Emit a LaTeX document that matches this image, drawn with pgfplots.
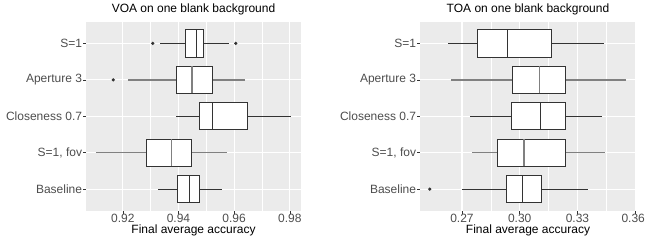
\documentclass[border=0pt]{standalone}
\usepackage{fontspec}
\setmainfont{Liberation Sans}
\usepackage{pgfplots}
\pgfplotsset{compat=1.18}
\usepgfplotslibrary{statistics}
\definecolor{ggbg}{HTML}{EBEBEB}
\definecolor{ggdark}{HTML}{333333}
\definecolor{ggtxt}{HTML}{4D4D4D}
\definecolor{gggray}{HTML}{808080}
\pgfplotsset{
  ggpanel/.style={
    scale only axis, height=189.5pt,
    axis background/.style={fill=ggbg},
    axis line style={draw=none},
    grid=both,
    major grid style={white, line width=1.1pt},
    minor grid style={white, line width=0.55pt},
    minor x tick num=1,
    minor tick length=0pt,
    major tick length=2.75pt,
    tick align=outside,
    tick style={ggdark, line width=0.5pt},
    xtick pos=left, ytick pos=left,
    ymin=0.4, ymax=5.6,
    ytick={1,2,3,4,5},
    yticklabels={Baseline,{S=1, fov},Closeness 0.7,Aperture 3,S=1},
    every tick label/.append style={font=\fontsize{12}{14}\selectfont, text=ggtxt},
    yticklabel style={inner xsep=1pt},
    xticklabel style={anchor=base, yshift=-8.5pt},
    xlabel={Final average accuracy},
    xlabel style={at={(axis description cs:0.5,0)}, anchor=base, yshift=-22.3pt, font=\fontsize{12}{14}\selectfont},
    title style={at={(axis description cs:0.5,1)}, anchor=base, yshift=3.4pt, font=\fontsize{12}{14}\selectfont},
  },
  dk/.style={boxplot/draw direction=x, boxplot/box extend=0.75, boxplot/whisker extend=0,
    solid, draw=ggdark, line width=0.9pt,
    boxplot/every box/.style={fill=white, draw=ggdark, line width=1pt},
    boxplot/every median/.style={draw=ggdark, line width=1.1pt},
    boxplot/every whisker/.style={draw=ggdark, line width=0.9pt},
    mark=*, mark size=1.1pt, mark options={fill=ggdark, draw=none}},
  gr/.style={boxplot/draw direction=x, boxplot/box extend=0.75, boxplot/whisker extend=0,
    solid, draw=ggdark, line width=0.9pt,
    boxplot/every box/.style={fill=white, draw=ggdark, line width=1pt},
    boxplot/every median/.style={draw=gggray, line width=1.6pt},
    boxplot/every whisker/.style={draw=gggray, line width=1.6pt},
    mark=*, mark size=1.1pt, mark options={fill=ggdark, draw=none}},
}
\begin{document}
\begin{tikzpicture}
\begin{axis}[ggpanel, at={(86pt,30pt)}, anchor=south west, width=215pt,
  xmin=0.9068, xmax=0.9840,
  xtick={0.92,0.94,0.96,0.98}, xticklabels={0.92,0.94,0.96,0.98},
  title={VOA on one blank background}]
% S=1
\addplot[dk, boxplot prepared={draw position=5, lower whisker=0.9334, lower quartile=0.9426, median=0.9465, upper quartile=0.9490, upper whisker=0.9582}] coordinates {(0,0.9308) (0,0.9606)};
% Aperture 3
\addplot[gr, boxplot prepared={draw position=4, lower whisker=0.9218, lower quartile=0.9394, median=0.9448, upper quartile=0.9522, upper whisker=0.9639}] coordinates {(0,0.9166)};
% Closeness 0.7
\addplot[dk, boxplot prepared={draw position=3, lower whisker=0.9392, lower quartile=0.9477, median=0.9523, upper quartile=0.9647, upper whisker=0.9805}] coordinates {};
% S=1, fov
\addplot[gr, boxplot prepared={draw position=2, lower whisker=0.9103, lower quartile=0.9287, median=0.9375, upper quartile=0.9448, upper whisker=0.9574}] coordinates {};
% Baseline
\addplot[dk, boxplot prepared={draw position=1, lower whisker=0.9326, lower quartile=0.9398, median=0.9441, upper quartile=0.9475, upper whisker=0.9556}] coordinates {};
\end{axis}
\begin{axis}[ggpanel, at={(420pt,30pt)}, anchor=south west, width=216pt,
  xmin=0.2482, xmax=0.3604,
  xtick={0.27,0.30,0.33,0.36}, xticklabels={0.27,0.30,0.33,{0.36\hspace*{4pt}}},
  title={TOA on one blank background}]
% S=1
\addplot[dk, boxplot prepared={draw position=5, lower whisker=0.2626, lower quartile=0.2782, median=0.2936, upper quartile=0.3167, upper whisker=0.3438}] coordinates {};
% Aperture 3
\addplot[gr, boxplot prepared={draw position=4, lower whisker=0.2643, lower quartile=0.2964, median=0.3103, upper quartile=0.3240, upper whisker=0.3553}] coordinates {};
% Closeness 0.7
\addplot[dk, boxplot prepared={draw position=3, lower whisker=0.2742, lower quartile=0.2955, median=0.3106, upper quartile=0.3236, upper whisker=0.3428}] coordinates {};
% S=1, fov
\addplot[gr, boxplot prepared={draw position=2, lower whisker=0.2750, lower quartile=0.2882, median=0.3023, upper quartile=0.3236, upper whisker=0.3445}] coordinates {};
% Baseline
\addplot[dk, boxplot prepared={draw position=1, lower whisker=0.2700, lower quartile=0.2933, median=0.3014, upper quartile=0.3111, upper whisker=0.3353}] coordinates {(0,0.2533)};
\end{axis}
\pgfresetboundingbox
\path[use as bounding box] (0,0) rectangle (645pt,241pt);
\end{tikzpicture}
\end{document}
